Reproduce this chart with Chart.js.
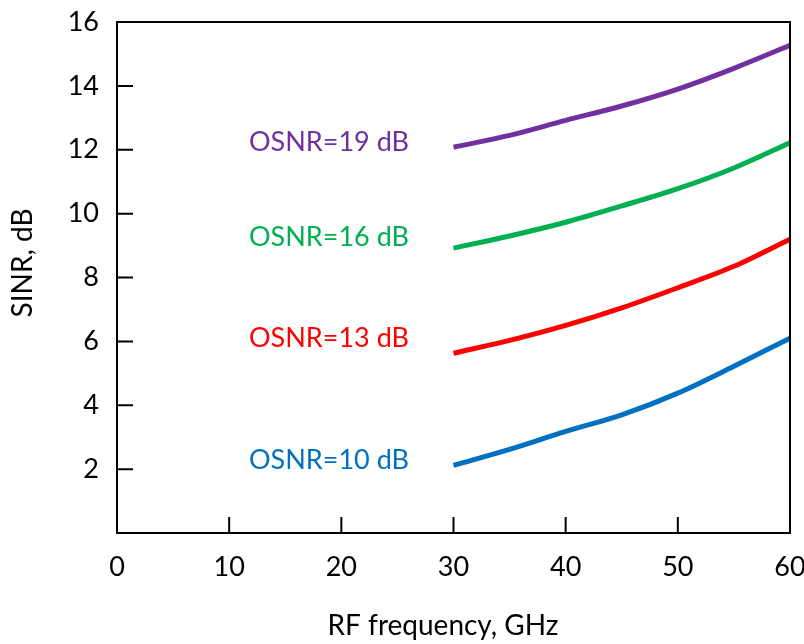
<!DOCTYPE html>
<html>
<head>
<meta charset="utf-8">
<script src="https://cdn.jsdelivr.net/npm/chart.js@4/dist/chart.umd.min.js"></script>
<style>
  html, body { margin: 0; padding: 0; background: #fff; }
  #wrap { width: 804px; height: 644px; }
</style>
</head>
<body>
<div id="wrap"><canvas id="grafica" width="804" height="644"></canvas></div>
<script>
// frecuencias RF (GHz) y SINR (dB)
const freq = [30, 35, 40, 45, 50, 55, 60];
const sinr19 = [12.08, 12.45, 12.92, 13.37, 13.9, 14.55, 15.27];
const sinr16 = [8.92, 9.3, 9.73, 10.24, 10.78, 11.43, 12.22];
const sinr13 = [5.63, 6.03, 6.5, 7.05, 7.68, 8.35, 9.2];
const sinr10 = [2.12, 2.62, 3.18, 3.7, 4.38, 5.22, 6.1];

const etiquetas = ['OSNR=19 dB', 'OSNR=16 dB', 'OSNR=13 dB', 'OSNR=10 dB'];
const etiquetaX = [18.9, 18.9, 18.9, 18.9];
const etiquetaY = [12.22, 9.27, 6.11, 2.29];
const colores = ['#7030A0', '#00B050', '#FF0000', '#0070C0'];

const xTicks = [0, 10, 20, 30, 40, 50, 60];
const yTicks = [0, 2, 4, 6, 8, 10, 12, 14, 16];

const fuente = 'Lato, "Open Sans", sans-serif';

const puntos = (ys) => freq.map((x, i) => ({ x: x, y: ys[i] }));

// marco, marcas hacia dentro, titulos de ejes y etiquetas de las curvas
const extras = {
  id: 'extras',
  afterDraw(chart) {
    const ctx = chart.ctx;
    const a = chart.chartArea;
    const sx = chart.scales.x;
    const sy = chart.scales.y;
    ctx.save();
    ctx.strokeStyle = '#000';
    ctx.lineWidth = 2;
    ctx.strokeRect(a.left, a.top, a.right - a.left, a.bottom - a.top);
    ctx.beginPath();
    xTicks.forEach(v => {
      if (v === 0 || v === 60) return;
      const px = sx.getPixelForValue(v);
      ctx.moveTo(px, a.bottom);
      ctx.lineTo(px, a.bottom - 16);
    });
    yTicks.forEach(v => {
      if (v === 0 || v === 16) return;
      const py = sy.getPixelForValue(v);
      ctx.moveTo(a.left, py);
      ctx.lineTo(a.left + 16, py);
    });
    ctx.stroke();

    ctx.fillStyle = '#000';
    ctx.font = '28px ' + fuente;
    ctx.textAlign = 'center';
    ctx.textBaseline = 'middle';
    ctx.fillText('RF frequency, GHz', 443, 626);
    ctx.save();
    ctx.translate(23, 263);
    ctx.rotate(-Math.PI / 2);
    ctx.fillText('SINR, dB', 0, 0);
    ctx.restore();

    ctx.font = '27px ' + fuente;
    etiquetas.forEach((t, i) => {
      ctx.fillStyle = colores[i];
      ctx.fillText(t, sx.getPixelForValue(etiquetaX[i]), sy.getPixelForValue(etiquetaY[i]));
    });
    ctx.restore();
  }
};

new Chart(document.getElementById('grafica').getContext('2d'), {
  type: 'line',
  data: {
    datasets: [sinr19, sinr16, sinr13, sinr10].map((d, i) => ({
      label: etiquetas[i],
      data: puntos(d),
      borderColor: colores[i],
      borderWidth: 5,
      pointRadius: 0,
      tension: 0.4,
      cubicInterpolationMode: 'monotone',
      fill: false
    }))
  },
  options: {
    responsive: false,
    animation: false,
    layout: { padding: { left: 0, top: 22, right: 14, bottom: 0 } },
    plugins: { legend: { display: false }, tooltip: { enabled: false } },
    scales: {
      x: {
        type: 'linear',
        min: 0,
        max: 60,
        afterBuildTicks: (s) => { s.ticks = xTicks.map(v => ({ value: v })); },
        afterFit: (s) => { s.height = 111; s.paddingLeft = 0; s.paddingRight = 0; },
        grid: { display: false, drawTicks: false },
        border: { display: false },
        ticks: { padding: 18, color: '#000', font: { family: fuente, size: 27 } }
      },
      y: {
        type: 'linear',
        min: 0,
        max: 16,
        afterBuildTicks: (s) => { s.ticks = yTicks.map(v => ({ value: v })); },
        afterFit: (s) => { s.width = 117; s.paddingTop = 0; s.paddingBottom = 0; },
        grid: { display: false, drawTicks: false },
        border: { display: false },
        ticks: {
          padding: 18,
          color: '#000',
          font: { family: fuente, size: 27 },
          callback: (v) => (v === 0 ? '' : v)
        }
      }
    }
  },
  plugins: [extras]
});
</script>
</body>
</html>
